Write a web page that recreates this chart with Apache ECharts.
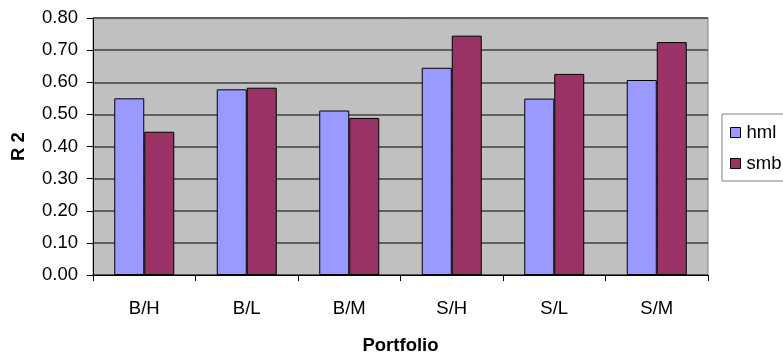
<!DOCTYPE html>
<html>
<head>
<meta charset="utf-8">
<script src="https://cdn.jsdelivr.net/npm/echarts@6/dist/echarts.min.js"></script>
<style>
  html, body { margin: 0; padding: 0; background: #fff; }
  #chart { width: 783px; height: 360px; }
</style>
</head>
<body>
<div id="chart"></div>
<script>
// Portfolio R2 values for the HML and SMB factors
const portfolios = ['B/H', 'B/L', 'B/M', 'S/H', 'S/L', 'S/M'];
const hml = [0.55, 0.578, 0.512, 0.645, 0.549, 0.607];
const smb = [0.446, 0.583, 0.489, 0.745, 0.626, 0.725];

const FONT = 'Liberation Sans, Arial, sans-serif';
const FS = 18.5;
const chart = echarts.init(document.getElementById('chart'), null, { renderer: 'canvas' });

chart.setOption({
  animation: false,
  textStyle: { fontFamily: FONT },
  grid: {
    left: 93, right: 75, top: 18, bottom: 85,
    show: true,
    backgroundColor: '#C0C0C0',
    borderColor: '#808080',
    borderWidth: 1
  },
  legend: {
    orient: 'vertical',
    left: 722, top: 114,
    itemWidth: 10, itemHeight: 10,
    itemGap: 12,
    icon: 'rect',
    padding: [9, 40, 8, 8],
    borderColor: '#808080',
    borderWidth: 1,
    backgroundColor: '#fff',
    textStyle: { fontSize: FS, color: '#000', fontFamily: FONT, padding: [0, 0, 0, 1] },
    data: [
      { name: 'hml', itemStyle: { borderColor: '#000', borderWidth: 1 } },
      { name: 'smb', itemStyle: { borderColor: '#000', borderWidth: 1 } }
    ]
  },
  xAxis: {
    type: 'category',
    data: portfolios,
    name: 'Portfolio',
    nameLocation: 'middle',
    nameGap: 61,
    nameTextStyle: { fontSize: FS, fontWeight: 'bold', color: '#000', fontFamily: FONT },
    axisLine: { lineStyle: { color: '#000', width: 1 } },
    axisTick: { show: true, alignWithLabel: false, length: 6, lineStyle: { color: '#000' } },
    axisLabel: { fontSize: FS, color: '#000', margin: 24, fontFamily: FONT }
  },
  yAxis: {
    type: 'value',
    min: 0, max: 0.8, interval: 0.1,
    name: 'R 2',
    nameLocation: 'middle',
    nameGap: 65,
    nameRotate: 90,
    nameTextStyle: { fontSize: FS, fontWeight: 'bold', color: '#000', fontFamily: FONT },
    axisLine: { show: true, lineStyle: { color: '#000', width: 1 } },
    axisTick: { show: true, length: 6, lineStyle: { color: '#000' } },
    axisLabel: {
      fontSize: FS, color: '#000', margin: 15, fontFamily: FONT,
      formatter: v => v.toFixed(2)
    },
    splitLine: { show: true, lineStyle: { color: '#404040', width: 1.5 } }
  },
  series: [
    {
      name: 'hml', type: 'bar', data: hml,
      barWidth: 30, barGap: '0%',
      itemStyle: { color: '#9999FF', borderColor: '#000', borderWidth: 1 }
    },
    {
      name: 'smb', type: 'bar', data: smb,
      barWidth: 30,
      itemStyle: { color: '#993366', borderColor: '#000', borderWidth: 1 }
    }
  ]
});
</script>
</body>
</html>
